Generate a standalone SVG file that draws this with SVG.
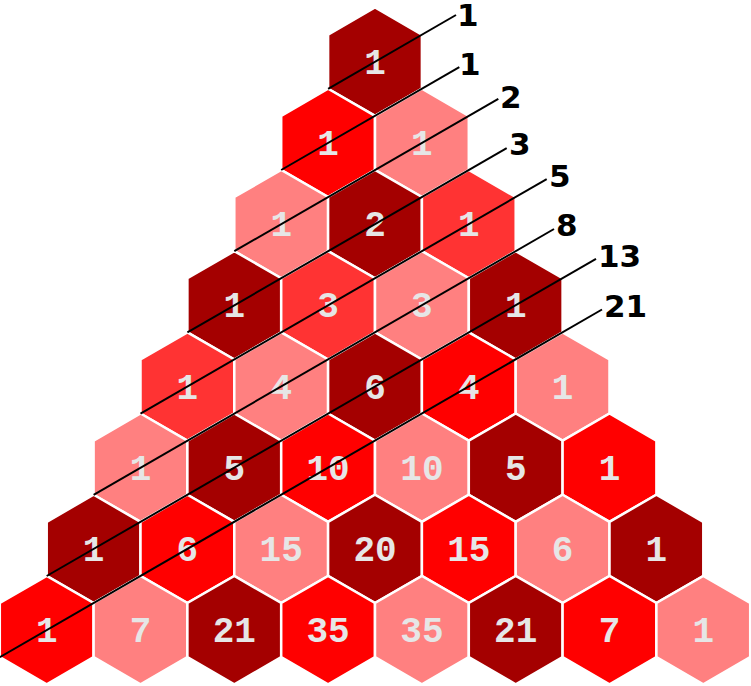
<svg xmlns="http://www.w3.org/2000/svg" width="751" height="686" viewBox="0 0 751 686">
<defs>
<path id="hex" d="M0,-54.16 L46.9,-27.08 L46.9,27.08 L0,54.16 L-46.9,27.08 L-46.9,-27.08 Z"/>
</defs>
<style>
.h{stroke:#ffffff;stroke-width:2.5}
.d{fill:#a40000}.r{fill:#ff0000}.l{fill:#ff8080}.m{fill:#ff3333}
.t{font-family:"Liberation Mono","DejaVu Sans Mono",monospace;font-weight:bold;font-size:36px;fill:#e6e6e6;text-anchor:middle}
.lab{font-family:"DejaVu Sans","Liberation Sans",sans-serif;font-weight:bold;font-size:31px;fill:#000000}
.ln{stroke:#000000;stroke-width:2;fill:none}
</style>
<rect width="751" height="686" fill="#ffffff"/>
<g id="cells">
<g id="c0_0"><use href="#hex" class="h d" x="375" y="61.7"/><text class="t" x="375" y="73.7">1</text></g>
<g id="c1_0"><use href="#hex" class="h r" x="328.1" y="142.9"/><text class="t" x="328.1" y="154.9">1</text></g>
<g id="c1_1"><use href="#hex" class="h l" x="421.9" y="142.9"/><text class="t" x="421.9" y="154.9">1</text></g>
<g id="c2_0"><use href="#hex" class="h l" x="281.2" y="224.1"/><text class="t" x="281.2" y="236.1">1</text></g>
<g id="c2_1"><use href="#hex" class="h d" x="375" y="224.1"/><text class="t" x="375" y="236.1">2</text></g>
<g id="c2_2"><use href="#hex" class="h m" x="468.8" y="224.1"/><text class="t" x="468.8" y="236.1">1</text></g>
<g id="c3_0"><use href="#hex" class="h d" x="234.3" y="305.3"/><text class="t" x="234.3" y="317.3">1</text></g>
<g id="c3_1"><use href="#hex" class="h m" x="328.1" y="305.3"/><text class="t" x="328.1" y="317.3">3</text></g>
<g id="c3_2"><use href="#hex" class="h l" x="421.9" y="305.3"/><text class="t" x="421.9" y="317.3">3</text></g>
<g id="c3_3"><use href="#hex" class="h d" x="515.7" y="305.3"/><text class="t" x="515.7" y="317.3">1</text></g>
<g id="c4_0"><use href="#hex" class="h m" x="187.4" y="386.5"/><text class="t" x="187.4" y="398.5">1</text></g>
<g id="c4_1"><use href="#hex" class="h l" x="281.2" y="386.5"/><text class="t" x="281.2" y="398.5">4</text></g>
<g id="c4_2"><use href="#hex" class="h d" x="375" y="386.5"/><text class="t" x="375" y="398.5">6</text></g>
<g id="c4_3"><use href="#hex" class="h r" x="468.8" y="386.5"/><text class="t" x="468.8" y="398.5">4</text></g>
<g id="c4_4"><use href="#hex" class="h l" x="562.6" y="386.5"/><text class="t" x="562.6" y="398.5">1</text></g>
<g id="c5_0"><use href="#hex" class="h l" x="140.5" y="467.7"/><text class="t" x="140.5" y="479.7">1</text></g>
<g id="c5_1"><use href="#hex" class="h d" x="234.3" y="467.7"/><text class="t" x="234.3" y="479.7">5</text></g>
<g id="c5_2"><use href="#hex" class="h r" x="328.1" y="467.7"/><text class="t" x="328.1" y="479.7">10</text></g>
<g id="c5_3"><use href="#hex" class="h l" x="421.9" y="467.7"/><text class="t" x="421.9" y="479.7">10</text></g>
<g id="c5_4"><use href="#hex" class="h d" x="515.7" y="467.7"/><text class="t" x="515.7" y="479.7">5</text></g>
<g id="c5_5"><use href="#hex" class="h r" x="609.5" y="467.7"/><text class="t" x="609.5" y="479.7">1</text></g>
<g id="c6_0"><use href="#hex" class="h d" x="93.6" y="548.9"/><text class="t" x="93.6" y="560.9">1</text></g>
<g id="c6_1"><use href="#hex" class="h r" x="187.4" y="548.9"/><text class="t" x="187.4" y="560.9">6</text></g>
<g id="c6_2"><use href="#hex" class="h l" x="281.2" y="548.9"/><text class="t" x="281.2" y="560.9">15</text></g>
<g id="c6_3"><use href="#hex" class="h d" x="375" y="548.9"/><text class="t" x="375" y="560.9">20</text></g>
<g id="c6_4"><use href="#hex" class="h r" x="468.8" y="548.9"/><text class="t" x="468.8" y="560.9">15</text></g>
<g id="c6_5"><use href="#hex" class="h l" x="562.6" y="548.9"/><text class="t" x="562.6" y="560.9">6</text></g>
<g id="c6_6"><use href="#hex" class="h d" x="656.4" y="548.9"/><text class="t" x="656.4" y="560.9">1</text></g>
<g id="c7_0"><use href="#hex" class="h r" x="46.7" y="630.1"/><text class="t" x="46.7" y="642.1">1</text></g>
<g id="c7_1"><use href="#hex" class="h l" x="140.5" y="630.1"/><text class="t" x="140.5" y="642.1">7</text></g>
<g id="c7_2"><use href="#hex" class="h d" x="234.3" y="630.1"/><text class="t" x="234.3" y="642.1">21</text></g>
<g id="c7_3"><use href="#hex" class="h r" x="328.1" y="630.1"/><text class="t" x="328.1" y="642.1">35</text></g>
<g id="c7_4"><use href="#hex" class="h l" x="421.9" y="630.1"/><text class="t" x="421.9" y="642.1">35</text></g>
<g id="c7_5"><use href="#hex" class="h d" x="515.7" y="630.1"/><text class="t" x="515.7" y="642.1">21</text></g>
<g id="c7_6"><use href="#hex" class="h r" x="609.5" y="630.1"/><text class="t" x="609.5" y="642.1">7</text></g>
<g id="c7_7"><use href="#hex" class="h l" x="703.3" y="630.1"/><text class="t" x="703.3" y="642.1">1</text></g>
</g>
<g id="connectors">
<line class="ln" x1="328.1" y1="88.8" x2="456" y2="15"/>
<line class="ln" x1="281.2" y1="170" x2="459.3" y2="67.2"/>
<line class="ln" x1="234.3" y1="251.2" x2="498.3" y2="98.8"/>
<line class="ln" x1="187.4" y1="332.4" x2="506.7" y2="148.1"/>
<line class="ln" x1="140.5" y1="413.6" x2="546.7" y2="179.1"/>
<line class="ln" x1="93.6" y1="494.8" x2="554" y2="229"/>
<line class="ln" x1="46.7" y1="576" x2="596" y2="258.9"/>
<line class="ln" x1="-0.2" y1="657.2" x2="602" y2="309.5"/>
</g>
<g id="labels">
<text class="lab" x="457" y="25.5">1</text>
<text class="lab" x="459" y="75">1</text>
<text class="lab" x="500" y="108">2</text>
<text class="lab" x="509" y="155">3</text>
<text class="lab" x="549" y="187">5</text>
<text class="lab" x="556" y="236">8</text>
<text class="lab" x="598" y="267">13</text>
<text class="lab" x="604" y="317">21</text>
</g>
</svg>
